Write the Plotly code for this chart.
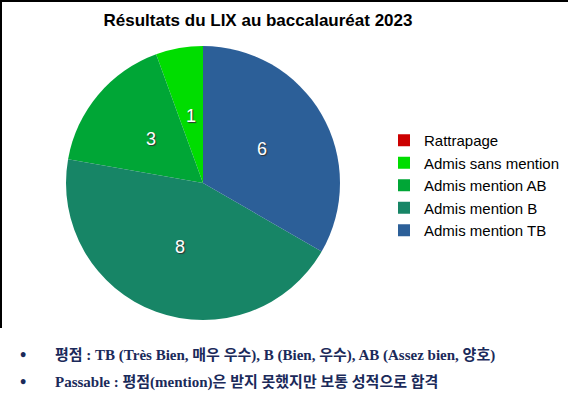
import math
import plotly.graph_objects as go

# -------------------------------
# DATA
# -------------------------------
labels = ["Rattrapage", "Admis sans mention", "Admis mention AB", "Admis mention B", "Admis mention TB"]
values = [0, 1, 3, 8, 6]
colors = ["#cc0000", "#00dd00", "#00a636", "#178566", "#2c5f98"]

title_text = "Résultats du LIX au baccalauréat 2023"
notes = [
    "평점 : TB (Très Bien, 매우 우수), B (Bien, 우수), AB (Assez bien, 양호)",
    "Passable : 평점(mention)은 받지 못했지만 보통 성적으로 합격",
]

W, H = 581, 410
# pie box in pixels (left, right, top, bottom)
pie_l, pie_r, pie_t, pie_b = 66, 340, 44, 322

# -------------------------------
# PIE
# -------------------------------
fig = go.Figure(go.Pie(
    labels=labels,
    values=values,
    marker=dict(colors=colors, line=dict(width=0)),
    sort=False,
    direction="counterclockwise",
    rotation=0,
    textinfo="none",
    domain=dict(x=[pie_l / W, pie_r / W], y=[1 - pie_b / H, 1 - pie_t / H]),
    hoverinfo="label+value",
))

# value labels at half radius (like the spreadsheet chart)
cx, cy = (pie_l + pie_r) / 2, (pie_t + pie_b) / 2
rad = min(pie_r - pie_l, pie_b - pie_t) / 2
total = sum(values)
acc = 0
for lab, v in zip(labels, values):
    if v > 0:
        mid = (acc + v / 2) / total * 2 * math.pi  # counterclockwise from top
        px = cx - 0.5 * rad * math.sin(mid)
        py = cy - 0.5 * rad * math.cos(mid)
        fig.add_annotation(text=str(v), xref="paper", yref="paper", x=px / W, y=1 - py / H,
                           showarrow=False, xanchor="center", yanchor="middle",
                           font=dict(family="Liberation Sans, Arial", size=18, color="white",
                                     shadow="1px 1px 1px #333333"))
    acc += v

# -------------------------------
# LAYOUT
# -------------------------------
fig.update_layout(
    width=W, height=H,
    margin=dict(l=0, r=0, t=0, b=0),
    paper_bgcolor="white",
    font=dict(family="Liberation Sans, Arial", color="black"),
    title=dict(text="<b>" + title_text + "</b>", x=258 / W, xanchor="center",
               y=1 - 20 / H, yanchor="middle",
               font=dict(size=17, color="black")),
    legend=dict(x=384 / W, y=1 - 124 / H, xanchor="left", yanchor="top",
                font=dict(size=15), itemwidth=30, tracegroupgap=0,
                bgcolor="rgba(0,0,0,0)"),
    showlegend=True,
)

# chart frame (top + left edges)
fig.add_shape(type="line", xref="paper", yref="paper", x0=0, x1=568 / W,
              y0=1 - 1 / H, y1=1 - 1 / H, line=dict(color="black", width=2))
fig.add_shape(type="line", xref="paper", yref="paper", x0=1 / W, x1=1 / W,
              y0=1 - 328 / H, y1=1, line=dict(color="black", width=2))

# notes below the chart
for i, note in enumerate(notes):
    yy = 1 - (355 + 27 * i) / H
    fig.add_annotation(text="<b>•</b>", xref="paper", yref="paper", x=23 / W, y=yy,
                       showarrow=False, xanchor="center", yanchor="middle",
                       font=dict(family="Liberation Serif", size=18, color="#1b2a5a"))
    fig.add_annotation(text="<b>" + note + "</b>", xref="paper", yref="paper",
                       x=53 / W, y=yy, showarrow=False, xanchor="left", yanchor="middle",
                       font=dict(family="Liberation Serif, Noto Sans CJK KR", size=15,
                                 color="#1b2a5a"))

# remove the default page margin so the figure sits at the window's corner
fig.write_html("out.html", config={"displayModeBar": False},
               post_script="document.body.style.margin='0';")
